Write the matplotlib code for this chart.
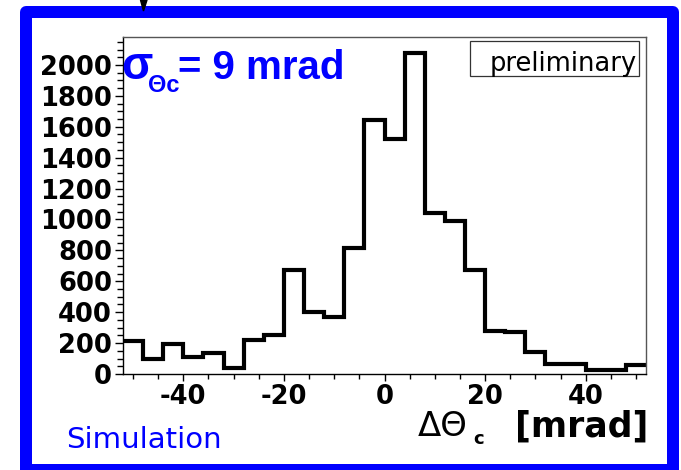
import numpy as np
import matplotlib.pyplot as plt
from matplotlib.patches import Rectangle, Polygon
from matplotlib.ticker import MultipleLocator

# histogram of delta theta_c, 26 bins of 4 mrad from -52 to 52
bin_edges = np.arange(-52, 53, 4)
counts = [216, 97, 194, 112, 134, 39, 218, 255, 676, 404, 371, 814, 1645,
          1518, 2080, 1041, 993, 676, 281, 270, 140, 65, 65, 24, 24, 56]
x_ticks = [-40, -20, 0, 20, 40]
y_max = 2181

W, H = 681, 470
plt.rcParams['axes.unicode_minus'] = False


def fx(px):
    return px / W


def fy(py):
    return 1 - py / H


fig = plt.figure(figsize=(W / 100, H / 100), dpi=100)

# blue frame around the canvas
frame = Rectangle((fx(26), fy(470)), fx(673) - fx(26), fy(12) - fy(470),
                  transform=fig.transFigure, fill=False, edgecolor='#0000ff',
                  lw=8.64, joinstyle='round')
fig.patches.append(frame)
# small arrow tip at the top
fig.patches.append(Polygon([(fx(140.5), fy(0)), (fx(147), fy(0)), (fx(143.5), fy(11))],
                           closed=True, transform=fig.transFigure, color='black'))

ax = fig.add_axes([fx(123), fy(374), fx(646) - fx(123), fy(37) - fy(374)])
ax.stairs(counts, bin_edges, color='black', lw=3.0, baseline=None)
ax.set_xlim(-52, 52)
ax.set_ylim(0, y_max)

ax.xaxis.set_major_locator(MultipleLocator(20))
ax.xaxis.set_minor_locator(MultipleLocator(5))
ax.yaxis.set_major_locator(MultipleLocator(200))
ax.yaxis.set_minor_locator(MultipleLocator(50))
ax.set_xticks(x_ticks)
ax.tick_params(axis='both', which='major', direction='out', color='black', width=1)
ax.tick_params(axis='both', which='minor', direction='out', color='black', width=1)
ax.tick_params(axis='y', which='major', length=6, pad=2)
ax.tick_params(axis='y', which='minor', length=4.5)
ax.tick_params(axis='x', which='major', length=5, pad=2)
ax.tick_params(axis='x', which='minor', length=3.5)
for lab in ax.get_xticklabels() + ax.get_yticklabels():
    lab.set_fontfamily('DejaVu Sans')
    lab.set_fontweight('bold')
    lab.set_fontsize(18.5)
for side in ['top', 'right']:
    ax.spines[side].set_color('#555555')
for side in ['left', 'bottom']:
    ax.spines[side].set_color('black')
for sp in ax.spines.values():
    sp.set_linewidth(1)

# legend-like box
fig.patches.append(Rectangle((fx(470), fy(76)), fx(639) - fx(470), fy(41) - fy(76),
                             transform=fig.transFigure, fill=False,
                             edgecolor='#333333', lw=0.9))
fig.text(fx(637), fy(71), 'preliminary', ha='right', va='baseline',
         family='DejaVu Sans', fontsize=18.5, color='black')

# resolution annotation
blue = '#0000ff'
fig.text(fx(121), fy(79), 'σ', ha='left', va='baseline', family='Liberation Sans',
         weight='bold', fontsize=33, color=blue)
fig.text(fx(148), fy(92), 'Θc', ha='left', va='baseline', family='Liberation Sans',
         weight='bold', fontsize=17, color=blue)
fig.text(fx(344), fy(79), '= 9 mrad', ha='right', va='baseline', family='Liberation Sans',
         weight='bold', fontsize=29, color=blue)

# x axis title
fig.text(fx(418), fy(436), 'ΔΘ', ha='left', va='baseline', family='DejaVu Sans',
         fontsize=24.5, color='black')
fig.text(fx(473), fy(444), 'c', ha='left', va='baseline', family='DejaVu Sans',
         weight='bold', fontsize=13, color='black')
fig.text(fx(648), fy(437), '[mrad]', ha='right', va='baseline', family='DejaVu Sans',
         weight='bold', fontsize=25, color='black')

fig.text(fx(66), fy(448), 'Simulation', ha='left', va='baseline', family='DejaVu Sans',
         fontsize=21, color=blue)

fig.savefig('out.png', dpi=100)
